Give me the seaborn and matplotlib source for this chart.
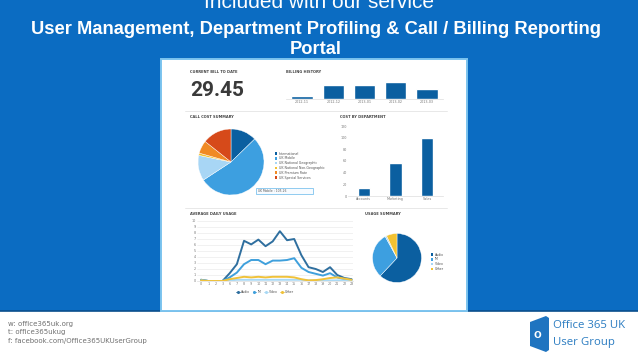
import matplotlib
matplotlib.use("Agg")
import matplotlib.pyplot as plt
from matplotlib.patches import Rectangle, Polygon, Patch
from matplotlib.lines import Line2D
import seaborn as sns
import pandas as pd

# ---------------- data ----------------
bill_to_date = "29.45"

billing_months = ["2012-11", "2012-12", "2013-01", "2013-02", "2013-03"]
billing_values = [3, 14, 14, 17, 10]

call_types = ["International", "UK Mobile", "UK National Geographic",
              "UK National Non-Geographic", "UK Premium Rate", "UK Special Services"]
call_costs = [25.3, 105.26, 24.7, 2.2, 12.6, 28.4]

departments = ["Accounts", "Marketing", "Sales"]
dept_costs = [13, 57, 99]

hours = ["0", "1", "2", "3", "6", "7", "8", "9", "10", "11", "12", "13",
         "14", "15", "16", "17", "18", "19", "20", "21", "22", "23"]
usage_audio = [0.2, 0, 0, 0, 1.3, 2.8, 6.7, 6.1, 6.9, 5.8, 6.6, 8.3,
               6.8, 7.0, 4.3, 2.3, 2.0, 1.5, 2.3, 1.0, 0.5, 0.3]
usage_im = [0.2, 0, 0, 0, 0.6, 1.4, 2.8, 3.5, 3.5, 2.8, 3.4, 3.4,
            3.5, 3.8, 2.2, 1.5, 1.2, 0.9, 1.3, 0.6, 0.3, 0.2]
usage_video = [0.1, 0, 0, 0, 0.1, 0.2, 0.2, 0.2, 0.2, 0.2, 0.2, 0.2,
               0.2, 0.2, 0.2, 0.1, 0.1, 0.1, 0.1, 0.1, 0.1, 0.1]
usage_other = [0.1, 0, 0, 0, 0.3, 0.5, 0.7, 0.6, 0.7, 0.6, 0.7, 0.7,
               0.7, 0.6, 0.3, 0.1, 0.15, 0.3, 0.5, 0.6, 0.4, 0.2]

usage_types = ["Audio", "IM", "Video", "Other"]
usage_share = [62, 30, 1, 7]

# ---------------- style ----------------
sns.set_theme(style="white")
plt.rcParams["font.family"] = ["DejaVu Sans"]

W, H, DPI = 638, 359, 100
fig = plt.figure(figsize=(W / DPI, H / DPI), dpi=DPI)
fig.patch.set_facecolor("white")

SLIDE_BLUE = "#0b6cc2"
DARK = "#0b5fa0"
MID = "#3d9fe0"
LIGHT = "#a8d6f5"
YEL = "#f2c232"
ORA = "#f08a24"
RED = "#d64a1a"


def px_axes(x0, y0, x1, y1):
    a = fig.add_axes([x0 / W, 1 - y1 / H, (x1 - x0) / W, (y1 - y0) / H])
    a.set_zorder(5)
    a.patch.set_alpha(0)
    return a


def ftext(x, y, s, **kw):
    kw.setdefault("zorder", 6)
    return fig.text(x / W, 1 - y / H, s, **kw)


def frect(x0, y0, x1, y1, **kw):
    r = Rectangle((x0 / W, 1 - y1 / H), (x1 - x0) / W, (y1 - y0) / H,
                  transform=fig.transFigure, **kw)
    fig.add_artist(r)
    return r


def fline(x0, y0, x1, y1, **kw):
    fig.add_artist(Line2D([x0 / W, x1 / W], [1 - y0 / H, 1 - y1 / H],
                          transform=fig.transFigure, **kw))


# slide background
frect(0, 0, W, 311, facecolor=SLIDE_BLUE, edgecolor="none", zorder=-3)
fline(0, 311, W, 311, color="#0a4f8c", lw=1.2, zorder=-2.5)

# titles
ftext(319, 3, "Included with our service", color="white", fontsize=15,
      family="Liberation Sans", ha="center", va="center")
ftext(316, 30, "User Management, Department Profiling & Call / Billing Reporting",
      color="white", fontsize=13.2, family="Liberation Sans", weight="bold",
      ha="center", va="center")
ftext(316, 49, "Portal", color="white", fontsize=13.2, family="Liberation Sans",
      weight="bold", ha="center", va="center")

# dashboard panel
frect(161, 59, 467, 311, facecolor="white", edgecolor="#7cc4ef", lw=1.4, zorder=-2)

# separators
fline(185, 111, 447, 111, color="#e4e4e4", lw=0.6, zorder=-1)
fline(185, 208, 447, 208, color="#e4e4e4", lw=0.6, zorder=-1)

hdr = dict(fontsize=2.6, weight="bold", color="#444444", va="center")
ftext(190, 72, "CURRENT BILL TO DATE", **hdr)
ftext(286, 72, "BILLING HISTORY", **hdr)
ftext(190, 117, "CALL COST SUMMARY", **hdr)
ftext(340, 117, "COST BY DEPARTMENT", **hdr)
ftext(190, 214, "AVERAGE DAILY USAGE", **hdr)
ftext(365, 214, "USAGE SUMMARY", **hdr)

ftext(190, 91, bill_to_date, fontsize=15, family="Roboto", weight="bold",
      color="#3a3a3a", va="center")

tick_kw = dict(labelsize=2.4, labelcolor="#777777", length=0, pad=1)

# billing history
ax = px_axes(286.4, 79, 442.6, 99)
df_bill = pd.DataFrame({"month": billing_months, "value": billing_values})
sns.barplot(data=df_bill, x="month", y="value", color=DARK, saturation=1,
            width=0.68, ax=ax)
ax.set_xlim(-0.5, 4.5)
ax.set_ylim(0, 20)
ax.set_xlabel("")
ax.set_ylabel("")
ax.set_yticks([])
ax.tick_params(axis="x", **tick_kw)
for s in ["top", "left", "right"]:
    ax.spines[s].set_visible(False)
ax.spines["bottom"].set_color("#dddddd")
ax.spines["bottom"].set_linewidth(0.5)

# call cost pie
ax = px_axes(198, 129, 264, 195)
call_colors = [DARK, MID, LIGHT, YEL, ORA, RED]
ax.pie(call_costs, colors=call_colors, startangle=90, counterclock=False,
       radius=1, wedgeprops=dict(linewidth=0.3, edgecolor="white"))
ax.set_xlim(-1, 1)
ax.set_ylim(-1, 1)
ax.set_aspect("equal")
ax.legend(handles=[Patch(facecolor=c, edgecolor="none") for c in call_colors],
          labels=call_types, loc="upper left",
          bbox_to_anchor=(273 / W, 1 - 150 / H), bbox_transform=fig.transFigure,
          fontsize=2.3, frameon=False, handlelength=0.9, handleheight=0.9,
          labelspacing=0.25, borderpad=0, handletextpad=0.4,
          labelcolor="#555555")

# tooltip
frect(256, 188, 313, 194, facecolor="#f7fbff", edgecolor="#7ec3ee", lw=0.6, zorder=6)
ftext(258, 191, "UK Mobile : 105.26", fontsize=2.2, color="#555555", va="center",
      zorder=7)

# cost by department
ax = px_axes(348, 126, 443, 196)
df_dept = pd.DataFrame({"dept": departments, "cost": dept_costs})
sns.barplot(data=df_dept, x="dept", y="cost", color=DARK, saturation=1,
            width=0.4, ax=ax)
ax.set_xlim(-0.5, 2.5)
ax.set_ylim(0, 120)
ax.set_yticks(range(0, 121, 20))
ax.set_xlabel("")
ax.set_ylabel("")
ax.tick_params(axis="both", **tick_kw)
for s in ["top", "left", "right"]:
    ax.spines[s].set_visible(False)
ax.spines["bottom"].set_color("#dddddd")
ax.spines["bottom"].set_linewidth(0.5)

# average daily usage
ax = px_axes(197, 221, 353, 281)
line_colors = ["#2f6f9f", "#3fa0dc", "#a9d9f5", "#f0c23a"]
series = [usage_audio, usage_im, usage_video, usage_other]
rows = []
for name, vals in zip(usage_types, series):
    for i, v in enumerate(vals):
        rows.append({"pos": i, "value": v, "type": name})
df_use = pd.DataFrame(rows)
sns.lineplot(data=df_use, x="pos", y="value", hue="type", hue_order=usage_types,
             palette=line_colors, linewidth=1.4, ax=ax, legend=False)
ax.set_xlim(-0.56, 21.2)
ax.set_ylim(0, 10)
ax.set_yticks(range(0, 11))
ax.set_xticks(range(len(hours)))
ax.set_xticklabels(hours)
ax.set_xlabel("")
ax.set_ylabel("")
ax.grid(axis="y", color="#e6e6e6", lw=0.4)
ax.set_axisbelow(True)
ax.tick_params(axis="both", **tick_kw)
for s in ["top", "left", "right"]:
    ax.spines[s].set_visible(False)
ax.spines["bottom"].set_color("#dddddd")
ax.spines["bottom"].set_linewidth(0.5)
ax.legend(handles=[Line2D([0], [0], color=c, marker="o", markersize=1.2, lw=0.6)
                   for c in line_colors],
          labels=usage_types, loc="center",
          bbox_to_anchor=(265 / W, 1 - 292 / H), bbox_transform=fig.transFigure,
          ncol=4, fontsize=2.3, frameon=False, handlelength=1.2,
          columnspacing=0.8, handletextpad=0.3, labelcolor="#555555")

# usage summary pie
ax = px_axes(372.5, 233.5, 421.5, 282.5)
usage_colors = [DARK, MID, LIGHT, YEL]
ax.pie(usage_share, colors=usage_colors, startangle=90, counterclock=False,
       radius=1, wedgeprops=dict(linewidth=0.3, edgecolor="white"))
ax.set_xlim(-1, 1)
ax.set_ylim(-1, 1)
ax.set_aspect("equal")
ax.legend(handles=[Patch(facecolor=c, edgecolor="none") for c in usage_colors],
          labels=usage_types, loc="upper left",
          bbox_to_anchor=(429 / W, 1 - 251 / H), bbox_transform=fig.transFigure,
          fontsize=2.3, frameon=False, handlelength=0.9, handleheight=0.9,
          labelspacing=0.25, borderpad=0, handletextpad=0.4,
          labelcolor="#555555")

# footer
foot = dict(fontsize=5, color="#707070", va="center", family="DejaVu Sans")
ftext(8, 324, "w: office365uk.org", **foot)
ftext(8, 332, "t: office365ukug", **foot)
ftext(8, 341, "f: facebook.com/Office365UKUserGroup", **foot)

logo = Polygon([(530 / W, 1 - 322 / H), (546 / W, 1 - 316 / H), (549 / W, 1 - 318 / H),
                (549 / W, 1 - 350 / H), (546 / W, 1 - 352 / H), (530 / W, 1 - 346 / H)],
               closed=True, transform=fig.transFigure, facecolor="#1f74c0",
               edgecolor="none", zorder=5)
fig.add_artist(logo)
ftext(537, 335, "O", fontsize=6.5, color="white", ha="center", va="center",
      weight="bold")
ftext(553, 326, "Office 365 UK", fontsize=8.2, color="#2b7cc1", va="center",
      family="Open Sans")
ftext(553, 343, "User Group", fontsize=8.2, color="#2b7cc1", va="center",
      family="Open Sans")

fig.savefig("out.png", dpi=DPI, facecolor=fig.get_facecolor())
